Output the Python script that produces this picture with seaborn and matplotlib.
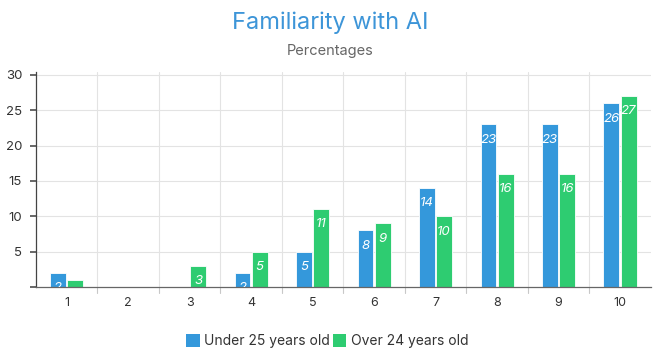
import matplotlib
matplotlib.use("Agg")
import matplotlib.pyplot as plt
import seaborn as sns
import pandas as pd
from matplotlib.patches import Patch

categories = ["1", "2", "3", "4", "5", "6", "7", "8", "9", "10"]
under_25 = [2, 0, 0, 2, 5, 8, 14, 23, 23, 26]
over_24 = [1, 0, 3, 5, 11, 9, 10, 16, 16, 27]
series_names = ["Under 25 years old", "Over 24 years old"]
colors = ["#3498db", "#2ecc71"]
y_ticks = [5, 10, 15, 20, 25, 30]

df = pd.DataFrame({
    "score": categories * 2,
    "value": under_25 + over_24,
    "group": [series_names[0]] * len(categories) + [series_names[1]] * len(categories),
})

sns.set_theme(style="white")
plt.rcParams["font.family"] = ["Inter", "DejaVu Sans"]

fig = plt.figure(figsize=(6.54, 3.52), dpi=100)
ax = fig.add_axes([0.055, 0.185, 0.94, 0.61])

sns.barplot(data=df, x="score", y="value", hue="group", order=categories,
            hue_order=series_names, palette=colors, saturation=1,
            width=0.56, gap=0.08, edgecolor="white", linewidth=0.6,
            legend=False, ax=ax)

# value labels just inside the top of each bar
for container in ax.containers:
    for bar in container:
        h = bar.get_height()
        if h <= 0:
            continue
        ax.annotate(f"{h:g}", (bar.get_x() + bar.get_width() / 2, h),
                    xytext=(0, -11), textcoords="offset points",
                    ha="center", va="center", color="white",
                    fontsize=9.5, fontstyle="italic", clip_on=True,
                    annotation_clip=True)

ax.set_xlim(-0.5, len(categories) - 0.5)
ax.set_ylim(0, 30.4)
ax.set_yticks([0] + y_ticks)
ax.set_yticklabels([""] + [str(t) for t in y_ticks])
ax.set_xlabel("")
ax.set_ylabel("")

# grid lines at category boundaries and y ticks
for b in range(1, len(categories)):
    ax.axvline(b - 0.5, color="#e3e3e3", lw=0.8, zorder=0)
for t in y_ticks:
    ax.axhline(t, color="#e3e3e3", lw=0.8, zorder=0)
ax.set_axisbelow(True)

ax.set_xticks(range(len(categories)))
ax.set_xticklabels(categories)
ax.tick_params(axis="x", length=0, pad=7, labelsize=9, labelcolor="#333333")
ax.tick_params(axis="y", length=4, color="#555555", pad=6, labelsize=9.5,
               labelcolor="#333333", left=True)
# small boundary ticks below the x axis
for b in range(1, len(categories)):
    ax.plot([b - 0.5, b - 0.5], [0, -0.8], color="#c8c8c8", lw=0.8,
            clip_on=False, zorder=1)

for side in ["top", "right"]:
    ax.spines[side].set_visible(False)
ax.spines["left"].set_color("#444444")
ax.spines["left"].set_linewidth(0.9)
ax.spines["bottom"].set_color("#666666")
ax.spines["bottom"].set_linewidth(0.9)

fig.text(0.505, 0.935, "Familiarity with AI", ha="center", va="center",
         fontsize=17, color="#3d95d8")
fig.text(0.505, 0.855, "Percentages", ha="center", va="center",
         fontsize=10.5, color="#666666")

handles = [Patch(facecolor=c, edgecolor="none") for c in colors]
fig.legend(handles, series_names, loc="center", bbox_to_anchor=(0.5, 0.03),
           ncol=2, frameon=False, fontsize=10, handlelength=1.0,
           handleheight=1.0, handletextpad=0.3, columnspacing=0.2,
           labelcolor="#333333")

fig.savefig("out.png", dpi=100, facecolor="white")
